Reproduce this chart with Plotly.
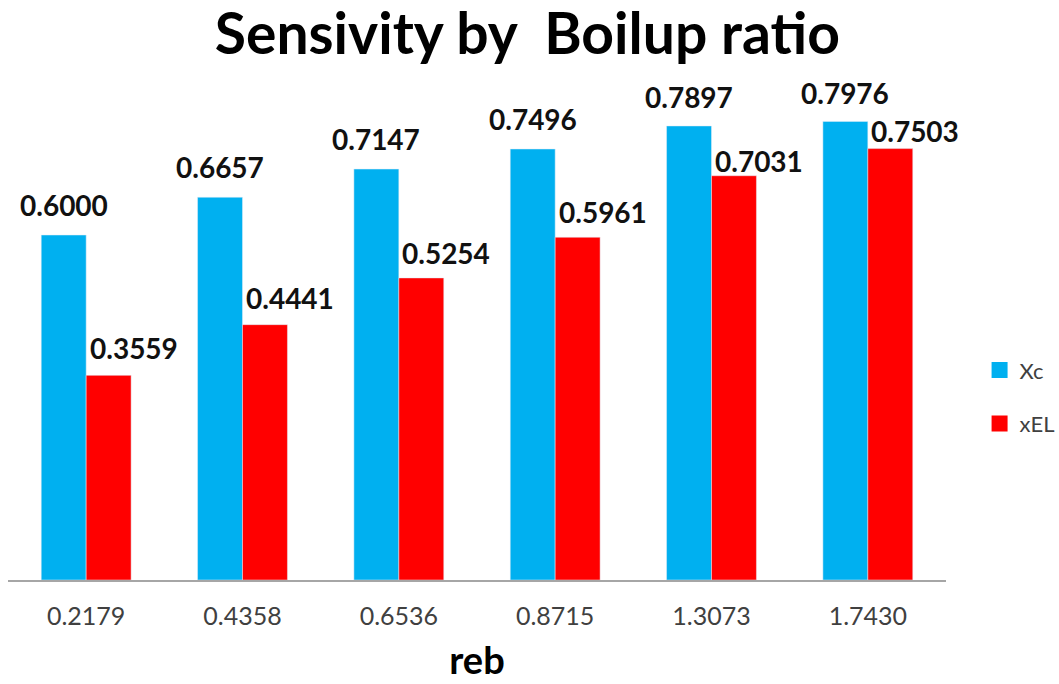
import plotly.graph_objects as go

# Boil-up ratio sensitivity data
reb = ["0.2179", "0.4358", "0.6536", "0.8715", "1.3073", "1.7430"]
xc = [0.6000, 0.6657, 0.7147, 0.7496, 0.7897, 0.7976]
xel = [0.3559, 0.4441, 0.5254, 0.5961, 0.7031, 0.7503]

BLUE = "#00B0F0"
RED = "#FF0000"
GREY_TXT = "#404040"
FONT = "Lato"

# vertical lift (px) of each value label above its bar
xc_lift = [30, 30, 30, 30, 29, 28]
xel_lift = [27, 27, 25, 25, 15, 18]

fig = go.Figure()
fig.add_trace(go.Bar(x=reb, y=xc, name="Xc", marker=dict(color=BLUE),
                     showlegend=False))
fig.add_trace(go.Bar(x=reb, y=xel, name="xEL", marker=dict(color=RED),
                     showlegend=False))

# legend entries with larger square swatches
for nm, col in (("Xc", BLUE), ("xEL", RED)):
    fig.add_trace(go.Scatter(x=[None], y=[None], mode="markers", name=nm,
                             legendgroup=nm,
                             marker=dict(symbol="square", size=16, color=col)))

# value labels; on a category axis the i-th category sits at position i
label_font = dict(family=FONT, size=28, color="#111111", weight="bold")
annotations = []
for i in range(len(reb)):
    annotations.append(dict(x=i, y=xc[i], xref="x", yref="y",
                            text=f"{xc[i]:.4f}", showarrow=False,
                            xanchor="center", yanchor="middle",
                            xshift=-22.5, yshift=xc_lift[i], font=label_font))
    annotations.append(dict(x=i, y=xel[i], xref="x", yref="y",
                            text=f"{xel[i]:.4f}", showarrow=False,
                            xanchor="center", yanchor="middle",
                            xshift=47.5, yshift=xel_lift[i], font=label_font))

fig.update_layout(
    width=1059, height=684,
    margin=dict(l=8, r=113, t=62, b=104, autoexpand=False),
    paper_bgcolor="white", plot_bgcolor="white",
    barmode="group", bargap=0.425, bargroupgap=0,
    title=dict(text="Sensivity by&nbsp;&nbsp;Boilup ratio",
               x=0.498, xref="container", xanchor="center",
               y=0.980, yref="container", yanchor="top",
               pad=dict(t=0, b=0, l=0, r=0),
               font=dict(family=FONT, size=57, color="black", weight="bold")),
    xaxis=dict(type="category", range=[-0.5, len(reb) - 0.5],
               showline=True, linecolor="#A6A6A6",
               linewidth=2, showgrid=False, zeroline=False,
               ticks="outside", ticklen=13, tickcolor="rgba(0,0,0,0)",
               tickfont=dict(family=FONT, size=25, color=GREY_TXT),
               title=dict(text="reb", standoff=18,
                          font=dict(family=FONT, size=38, color="black",
                                    weight="bold"))),
    yaxis=dict(range=[0, 0.9009], visible=False, showgrid=False,
               zeroline=False),
    legend=dict(x=0.925, xref="container", xanchor="left",
                y=0.353, yanchor="middle",
                font=dict(family=FONT, size=22, color=GREY_TXT),
                tracegroupgap=22, itemsizing="trace",
                bgcolor="rgba(0,0,0,0)"),
    annotations=annotations,
)

fig.write_html("out.html")
